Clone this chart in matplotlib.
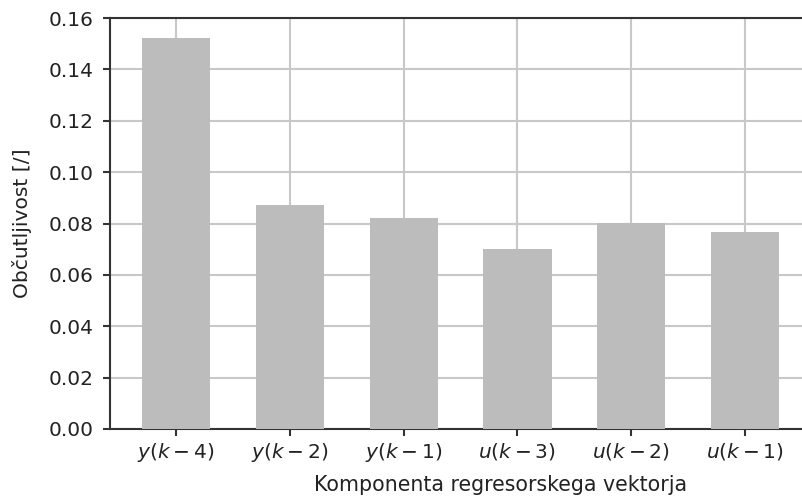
import matplotlib
matplotlib.use('Agg')
import matplotlib.pyplot as plt

# Sensitivity of each regressor vector component
components = [r'$y(k-4)$', r'$y(k-2)$', r'$y(k-1)$', r'$u(k-3)$', r'$u(k-2)$', r'$u(k-1)$']
sensitivity = [0.1522, 0.0872, 0.0821, 0.0701, 0.0802, 0.0767]
yticks = [0.00, 0.02, 0.04, 0.06, 0.08, 0.10, 0.12, 0.14, 0.16]

plt.rcParams['font.family'] = ['DejaVu Sans']
plt.rcParams['mathtext.fontset'] = 'dejavusans'

fig = plt.figure(figsize=(8.02, 5.01), dpi=100)
ax = fig.add_axes([110 / 802, 1 - 429 / 501, 1 - 110 / 802, (429 - 18) / 501])

x = range(len(components))
ax.bar(x, sensitivity, width=0.6, color='#bcbcbc', zorder=3)

ax.set_xlim(-0.58, 5.5)
ax.set_ylim(0, 0.16)
ax.set_yticks(yticks)
ax.set_yticklabels(['{:.2f}'.format(t) for t in yticks])
ax.set_xticks(list(x))
ax.set_xticklabels(components)

ax.grid(True, color='#c8c8c8', linewidth=1.5, zorder=0)
ax.set_axisbelow(True)
for side in ['left', 'bottom', 'top']:
    ax.spines[side].set_color('#333333')
    ax.spines[side].set_linewidth(1.5)
ax.spines['right'].set_visible(False)
ax.tick_params(axis='both', labelsize=14.5, length=5, width=1.5, color='#333333', labelcolor='#222222')
ax.tick_params(axis='y', pad=7)

ax.set_xlabel('Komponenta regresorskega vektorja', fontsize=14.8, color='#222222')
ax.set_ylabel('Občutljivost [/]', fontsize=14.6, color='#222222')
ax.xaxis.set_label_coords((501 - 110) / (802 - 110), -0.112)
ax.yaxis.set_label_coords(-0.113, 0.5)

fig.savefig('out.png', dpi=100)
